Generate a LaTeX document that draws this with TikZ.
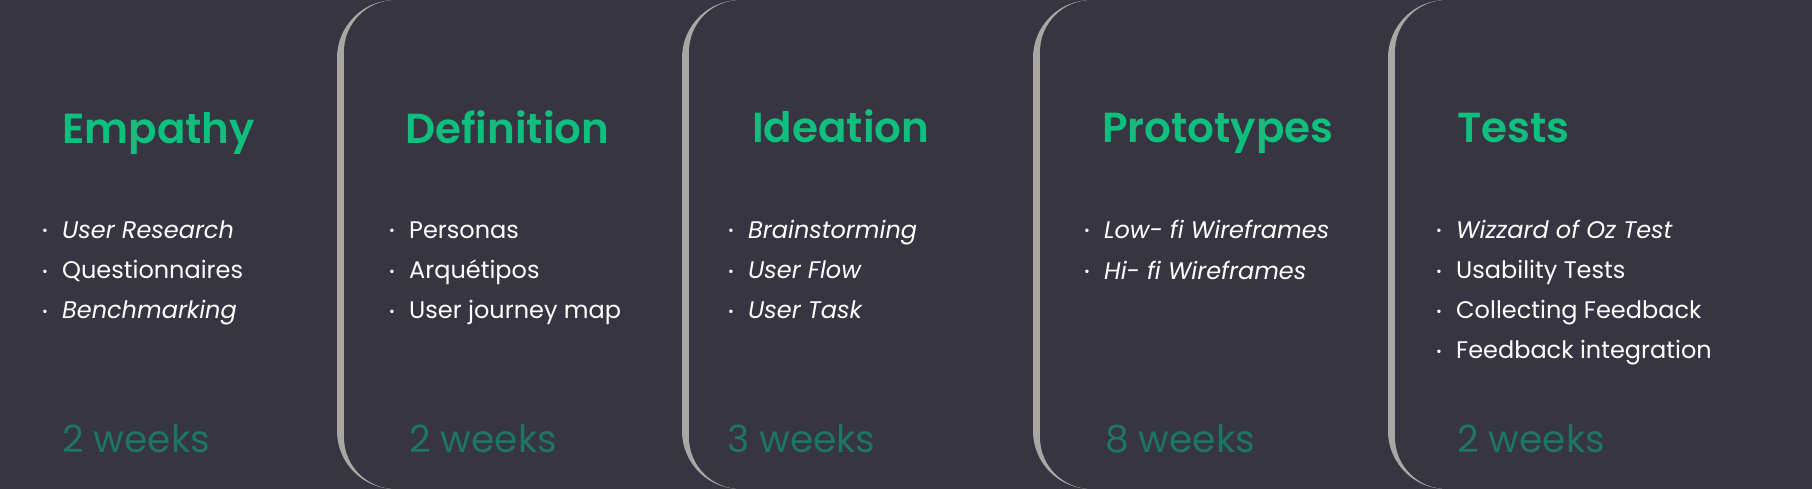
\documentclass[tikz,border=0pt]{standalone}
\usepackage{fontspec}
\setmainfont{Poppins}
\newfontfamily\headfont{Poppins SemiBold}
\usetikzlibrary{positioning}

\definecolor{bgdark}{HTML}{363541}
\definecolor{phasegreen}{HTML}{0FBF7E}
\definecolor{weekgreen}{HTML}{1D7660}
\definecolor{edgegrey}{HTML}{A9A7A4}

\tikzset{
  phase/.style={anchor=base west,inner sep=0pt,text=phasegreen,font=\headfont\fontsize{42}{48}\selectfont},
  task/.style={anchor=base west,inner sep=0pt,text=white,font=\fontsize{24}{28}\selectfont},
  span/.style={anchor=base west,inner sep=0pt,text=weekgreen,font=\fontsize{37.5}{42}\selectfont},
}
\newcommand{\dotitem}[1]{\makebox[20pt][l]{\raisebox{2pt}{\fontsize{14}{14}\selectfont •}}#1}

\begin{document}
\begin{tikzpicture}[x=1pt,y=-1pt]
\useasboundingbox (0,0) rectangle (1812,489);
\begin{scope}
\clip (0,0) rectangle (1812,489);
\fill[bgdark] (0,0) rectangle (1812,489);
% rounded panel edges with grey rim
\foreach \ex in {337,682,1033,1388}{
  \fill[edgegrey,rounded corners=58] (\ex,0) rectangle (1900,489);
  \fill[bgdark,rounded corners=52] (\ex+7,0) rectangle (1900,489);
}
\end{scope}

% Empathy
\node[phase] (empathy) at (62,144) {Empathy};
\node[task] (emp1) at (42,238) {\dotitem{\itshape User Research}};
\node[task] (emp2) at (42,278) {\dotitem{Questionnaires}};
\node[task] (emp3) at (42,318) {\dotitem{\itshape Benchmarking}};
\node[span] (empweeks) at (62,452) {2 weeks};

% Definition
\node[phase] (definition) at (405,144) {Definition};
\node[task] (def1) at (389,238) {\dotitem{Personas}};
\node[task] (def2) at (389,278) {\dotitem{Arquétipos}};
\node[task] (def3) at (389,318) {\dotitem{User journey map}};
\node[span] (defweeks) at (409,452) {2 weeks};

% Ideation
\node[phase] (ideation) at (752,143) {Ideation};
\node[task] (ide1) at (728,238) {\dotitem{\itshape Brainstorming}};
\node[task] (ide2) at (728,278) {\dotitem{\itshape User Flow}};
\node[task] (ide3) at (728,318) {\dotitem{\itshape User Task}};
\node[span] (ideweeks) at (727,452) {3 weeks};

% Prototypes
\node[phase] (prototypes) at (1102,143) {Prototypes};
\node[task] (pro1) at (1084,238) {\dotitem{\itshape Low- fi Wireframes}};
\node[task] (pro2) at (1084,279) {\dotitem{\itshape Hi- fi Wireframes}};
\node[span] (proweeks) at (1105,452) {8 weeks};

% Tests
\node[phase] (tests) at (1457,143) {Tests};
\node[task] (tes1) at (1436,238) {\dotitem{\itshape Wizzard of Oz Test}};
\node[task] (tes2) at (1436,278) {\dotitem{Usability Tests}};
\node[task] (tes3) at (1436,318) {\dotitem{Collecting Feedback}};
\node[task] (tes4) at (1436,358) {\dotitem{Feedback integration}};
\node[span] (tesweeks) at (1457,452) {2 weeks};
\end{tikzpicture}
\end{document}
